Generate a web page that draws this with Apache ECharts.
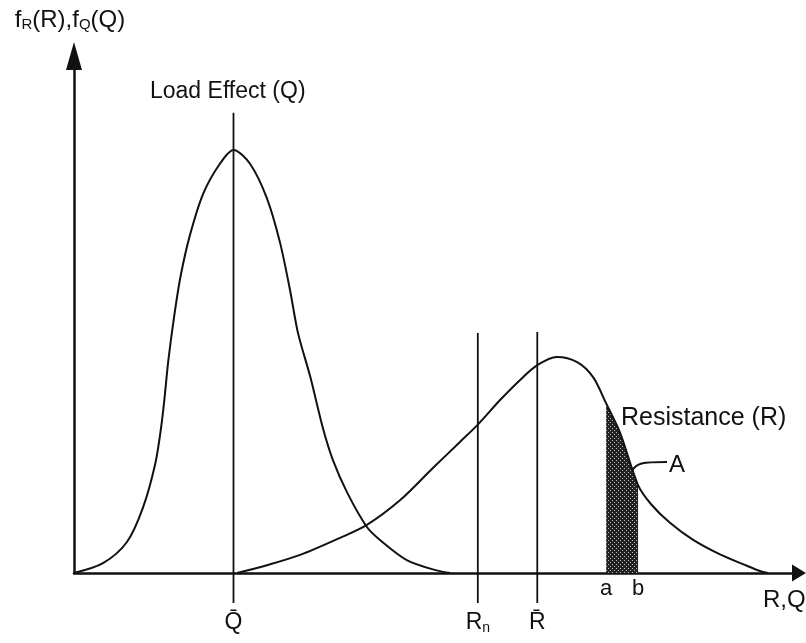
<!DOCTYPE html>
<html lang="en">
<head>
  <meta charset="UTF-8">
  <title>Load Effect and Resistance</title>
  <script src="https://cdn.jsdelivr.net/npm/echarts@6/dist/echarts.min.js"></script>
  <style>
    html, body {
      margin: 0;
      padding: 0;
      background: #fff;
    }

    #main {
      width: 806px;
      height: 643px;
    }
  </style>
</head>
<body>
<div id="main"></div>
<script>
  // load effect density f_Q(Q), [x, y]
  var loadCurve = [
    [0, 0], [4.0, 1.9], [7.3, 6.0], [9.5, 12.6], [11.2, 21.1], [12.0, 28.0], [12.5, 34.0],
    [13.0, 41.0], [13.8, 49.5], [14.7, 57.4], [16.0, 65.4], [17.8, 73.3], [20.1, 79.1],
    [22.0, 81.8], [24.3, 79.1], [26.6, 72.5], [28.4, 64.0], [29.8, 54.7], [30.9, 46.4],
    [32.6, 37.9], [34.3, 28.2], [35.7, 21.9], [37.7, 15.5], [40.4, 8.9], [42.2, 6.4],
    [45.9, 2.5], [50.0, 0.5], [51.9, 0]
  ];
  // resistance density f_R(R), [x, y]
  var resistanceCurve = [
    [22.5, 0], [26.6, 1.5], [31.2, 3.5], [36.7, 6.8], [40.4, 9.3], [45.0, 14.1], [49.5, 20.3],
    [53.2, 25.3], [55.7, 28.7], [58.8, 33.5], [61.5, 37.3], [63.9, 40.2], [66.6, 41.8],
    [69.4, 40.8], [71.6, 37.9], [73.4, 32.8], [75.3, 27.2], [77.8, 17.0], [79.6, 13.3],
    [82.2, 9.7], [85.4, 6.4], [89.1, 3.6], [92.8, 1.4], [94.6, 0.4], [95.7, 0]
  ];
  // vertical reference lines
  var refNames = ['qMean', 'rNominal', 'rMean'];
  var refX = [22.0, 55.7, 63.9];
  var refTop = [89.0, 46.4, 46.6];
  var refBottom = -5.8;
  // bounds of shaded area A
  var aValue = 73.4;
  var bValue = 77.8;

  var FONT = '"Liberation Sans", Arial, Helvetica, sans-serif';
  var INK = '#111';

  var refLabels = {
    qMean: 'Q\u0304',
    rNominal: '{big|R}{sub|n}',
    rMean: 'R\u0304'
  };

  // dotted fill for area A
  var pat = document.createElement('canvas');
  pat.width = 4;
  pat.height = 4;
  var ctx = pat.getContext('2d');
  ctx.fillStyle = '#222';
  ctx.fillRect(0, 0, 4, 4);
  ctx.fillStyle = '#bbb';
  ctx.fillRect(0, 0, 1, 1);
  ctx.fillRect(2, 2, 1, 1);

  var subRich = {
    big: {fontSize: 23, fontFamily: FONT, color: INK, lineHeight: 24, verticalAlign: 'top'},
    sub: {fontSize: 14, fontFamily: FONT, color: INK, lineHeight: 14, padding: [13, 0, 0, 0], verticalAlign: 'bottom'}
  };

  var shadeData = resistanceCurve.filter(function (p) {
    return p[0] >= aValue && p[0] <= bValue;
  });

  var series = [
    {
      type: 'line',
      data: shadeData,
      symbol: 'none',
      lineStyle: {width: 0},
      areaStyle: {color: {image: pat, repeat: 'repeat'}, opacity: 1},
      z: 1
    },
    {
      type: 'line',
      data: loadCurve,
      smooth: 0.3,
      symbol: 'none',
      lineStyle: {color: INK, width: 2},
      z: 3
    },
    {
      type: 'line',
      data: resistanceCurve,
      smooth: 0.3,
      symbol: 'none',
      lineStyle: {color: INK, width: 2},
      z: 3
    }
  ];

  refNames.forEach(function (n, i) {
    series.push({
      type: 'line',
      clip: false,
      symbol: 'circle',
      symbolSize: 1,
      showSymbol: true,
      itemStyle: {color: 'rgba(0,0,0,0)'},
      lineStyle: {color: INK, width: 1.8},
      data: [
        {
          value: [refX[i], refBottom],
          label: {
            show: true,
            position: 'bottom',
            distance: 8,
            formatter: refLabels[n],
            fontSize: 23,
            fontFamily: FONT,
            color: INK,
            rich: subRich
          }
        },
        {value: [refX[i], refTop[i]]}
      ],
      z: 2
    });
  });

  var myChart = echarts.init(document.getElementById('main'));

  var option = {
    animation: false,
    backgroundColor: '#fff',
    grid: {left: 74, right: 7, top: 56, bottom: 70},
    xAxis: {
      type: 'value',
      min: 0,
      max: 100,
      splitLine: {show: false},
      axisTick: {show: false},
      axisLine: {
        onZero: true,
        symbol: ['none', 'triangle'],
        symbolSize: [17, 14],
        lineStyle: {color: INK, width: 2.5}
      },
      axisLabel: {
        customValues: [aValue, bValue],
        formatter: function (v) {
          return v === aValue ? 'a' : 'b';
        },
        margin: 5,
        fontSize: 22,
        fontFamily: FONT,
        color: INK
      }
    },
    yAxis: {
      type: 'value',
      min: 0,
      max: 100,
      splitLine: {show: false},
      axisTick: {show: false},
      axisLabel: {show: false},
      axisLine: {
        symbol: ['none', 'triangle'],
        symbolSize: [16, 28],
        lineStyle: {color: INK, width: 2.5}
      },
      name: '{t|f}{s|R}{t|(R),f}{s|Q}{t|(Q)}',
      nameLocation: 'end',
      nameGap: 24,
      nameTextStyle: {
        align: 'center',
        padding: [0, 8, 0, 0],
        rich: {
          t: {fontSize: 24, fontFamily: FONT, color: INK, lineHeight: 24, verticalAlign: 'top'},
          s: {fontSize: 15, fontFamily: FONT, color: INK, lineHeight: 15, padding: [12, 0, 0, 0], verticalAlign: 'bottom'}
        }
      }
    },
    graphic: [
      {
        type: 'text', left: 150, top: 80,
        style: {text: 'Load Effect (Q)', font: '23px ' + FONT, fill: INK}
      },
      {
        type: 'text', left: 621, top: 406,
        style: {text: 'Resistance (R)', font: '25px ' + FONT, fill: INK}
      },
      {
        type: 'text', left: 669, top: 453,
        style: {text: 'A', font: '24px ' + FONT, fill: INK}
      },
      {
        type: 'text', left: 763, top: 588,
        style: {text: 'R,Q', font: '24px ' + FONT, fill: INK}
      },
      {
        type: 'bezierCurve',
        shape: {x1: 632, y1: 471, x2: 667, y2: 462, cpx1: 636, cpy1: 463, cpx2: 642, cpy2: 462},
        style: {stroke: INK, lineWidth: 2, fill: null}
      }
    ],
    series: series
  };

  myChart.setOption(option);
</script>
</body>
</html>
